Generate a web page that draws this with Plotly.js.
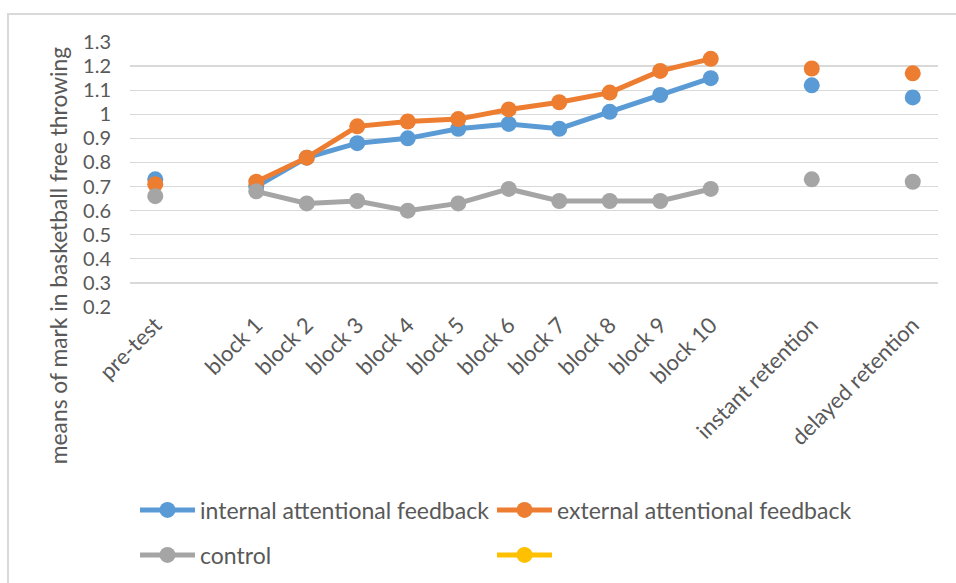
<!DOCTYPE html>
<html>
<head>
<meta charset="utf-8">
<script src="https://cdn.plot.ly/plotly-3.0.1.min.js"></script>
<style>
  html, body { margin: 0; padding: 0; background: #fff; overflow: hidden; }
  #wrap { position: relative; width: 956px; height: 583px; }
  #chart { width: 956px; height: 583px; }
  #frame { position: absolute; left: 7px; top: 13px; width: 1000px; height: 700px;
           border-left: 2px solid #d9d9d9; border-top: 2px solid #d9d9d9; pointer-events: none; }
</style>
</head>
<body>
<div id="wrap">
  <div id="chart"></div>
  <div id="frame"></div>
</div>
<script>
const categories = ["pre-test", " ", "block 1", "block 2", "block 3", "block 4", "block 5",
  "block 6", "block 7", "block 8", "block 9", "block 10", "  ", "instant retention", "   ", "delayed retention"];
const internalValues = [0.73, null, 0.70, 0.82, 0.88, 0.90, 0.94, 0.96, 0.94, 1.01, 1.08, 1.15, null, 1.12, null, 1.07];
const externalValues = [0.71, null, 0.72, 0.82, 0.95, 0.97, 0.98, 1.02, 1.05, 1.09, 1.18, 1.23, null, 1.19, null, 1.17];
const controlValues  = [0.66, null, 0.68, 0.63, 0.64, 0.60, 0.63, 0.69, 0.64, 0.64, 0.64, 0.69, null, 0.73, null, 0.72];
const emptyValues    = categories.map(() => null);
const seriesNames = ["internal attentional feedback", "external attentional feedback", "control", ""];
const yTitle = "means of mark in basketball free throwing";

const colors = ["#5B9BD5", "#ED7D31", "#A5A5A5", "#FFC000"];
const legendIds = ["legend", "legend2", "legend3", "legend4"];
const allValues = [internalValues, externalValues, controlValues, emptyValues];

const traces = allValues.map((vals, i) => ({
  type: "scatter",
  mode: "lines+markers",
  x: categories,
  y: vals,
  name: seriesNames[i],
  connectgaps: false,
  line: { color: colors[i], width: 5 },
  marker: { color: colors[i], size: 16 },
  legend: legendIds[i],
  showlegend: true
}));

const fontFamily = "Lato, 'Open Sans', sans-serif";
const textColor = "#595959";

function legendAt(px, py) {
  return {
    orientation: "h",
    xref: "container", yref: "container",
    x: px / 956, y: 1 - py / 583,
    xanchor: "left", yanchor: "middle",
    itemwidth: 55,
    font: { size: 23, color: textColor, family: fontFamily },
    bgcolor: "rgba(0,0,0,0)",
    itemclick: false, itemdoubleclick: false
  };
}

const layout = {
  width: 956,
  height: 583,
  margin: { l: 130, r: 18, t: 42, b: 276 },
  paper_bgcolor: "#ffffff",
  plot_bgcolor: "#ffffff",
  font: { family: fontFamily, color: textColor, size: 20 },
  xaxis: {
    type: "category",
    categoryorder: "array",
    categoryarray: categories,
    range: [-0.5, categories.length - 0.5],
    autorange: false,
    tickangle: -45,
    showgrid: false,
    showline: false,
    zeroline: false,
    ticks: "",
    tickfont: { size: 22, color: textColor },
    fixedrange: true
  },
  yaxis: {
    range: [0.2, 1.3],
    autorange: false,
    dtick: 0.1,
    tick0: 0.2,
    showgrid: true,
    gridcolor: "#d9d9d9",
    gridwidth: 1.3,
    zeroline: false,
    showline: false,
    ticks: "",
    ticklabelstandoff: 18,
    tickfont: { size: 20, color: textColor },
    fixedrange: true
  },
  annotations: [{
    text: yTitle,
    xref: "paper", yref: "paper",
    x: -0.089, y: 0.192,
    xanchor: "center", yanchor: "middle",
    textangle: -90,
    showarrow: false,
    font: { size: 22.8, color: textColor, family: fontFamily }
  }],
  legend: legendAt(135, 510),
  legend2: legendAt(492, 510),
  legend3: legendAt(135, 555),
  legend4: legendAt(492, 555),
  showlegend: true
};

Plotly.newPlot("chart", traces, layout, { displayModeBar: false, staticPlot: true });
</script>
</body>
</html>
